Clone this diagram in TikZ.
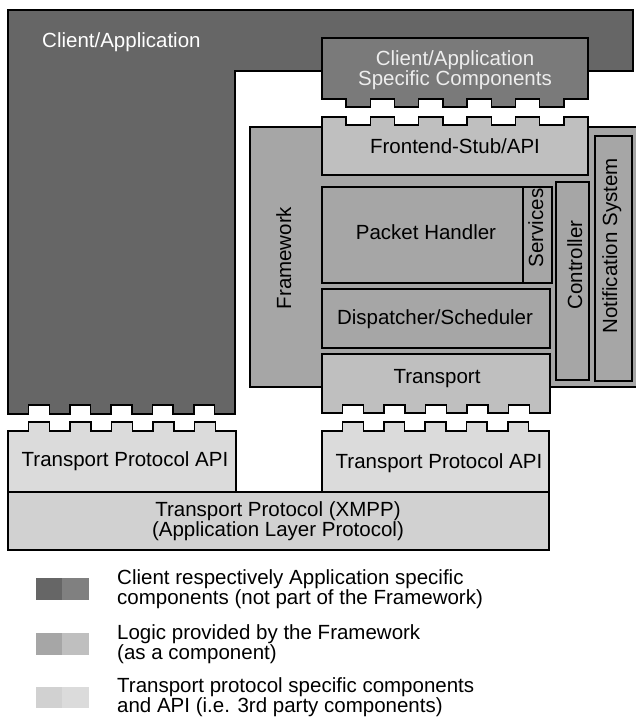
\documentclass[tikz,border=0pt]{standalone}
\usepackage{fontspec}
\setmainfont{Liberation Sans}
\usepackage{xcolor}
\usetikzlibrary{calc, positioning}

\definecolor{appdark}{gray}{0.40}
\definecolor{appmid}{gray}{0.48}
\definecolor{applegend}{gray}{0.50}
\definecolor{logicdark}{gray}{0.65}
\definecolor{logiclight}{gray}{0.75}
\definecolor{protodark}{gray}{0.82}
\definecolor{protolight}{gray}{0.86}

\begin{document}
\begin{tikzpicture}[
        x=1pt, y=-1pt,
        every node/.style={font=\fontsize{20.5}{20}\selectfont, inner sep=0pt},
        part/.style={draw=black, line width=1.5pt, line join=miter},
        label/.style={anchor=base},
        sidelabel/.style={anchor=base, rotate=90},
        legendtext/.style={anchor=west, align=left}
    ]
        \useasboundingbox (0,0) rectangle (635,717);

        % client / application
        \draw[part, fill=appdark] (8,10) -- (8,414)
            \foreach \k in {1,3,5,7,9} {-- ({8+\k*20.64},414) -- ({8+\k*20.64},405) -- ({8+(\k+1)*20.64},405) -- ({8+(\k+1)*20.64},414)}
            -- (235,414) -- (235,71) -- (633,71) -- (633,10) -- cycle;
        \node[anchor=base west, text=white] (clientapp) at (42,48) {Client/Application};

        % framework
        \draw[part, fill=logicdark] (250,127) rectangle (645,387);
        \node[sidelabel] (framework) at (291,258) {Framework};

        \draw[part, fill=appmid] (322,38) -- (322,99)
            \foreach \k in {1,3,5,7,9} {-- ({322+\k*24.18},99) -- ({322+\k*24.18},107) -- ({322+(\k+1)*24.18},107) -- ({322+(\k+1)*24.18},99)}
            -- (588,99) -- (588,38) -- cycle;
        \node[label, align=center, text=white!93!black] (appcomponents) at (455,85) {Client/Application\\Specific Components};

        \draw[part, fill=logiclight] (322,175) -- (322,117)
            \foreach \k in {1,3,5,7,9} {-- ({322+\k*24.18},117) -- ({322+\k*24.18},125) -- ({322+(\k+1)*24.18},125) -- ({322+(\k+1)*24.18},117)}
            -- (588,117) -- (588,175) -- cycle;
        \node[label] (frontend) at (455,153) {Frontend-Stub/API};

        \draw[part, fill=logicdark] (322,187) rectangle (523,283);
        \node[label] (packethandler) at (426,239) {Packet Handler};
        \draw[part, fill=logicdark] (523,187) rectangle (552,283);
        \node[sidelabel] (services) at (543,228) {Services};

        \draw[part, fill=logicdark] (322,289) rectangle (550,348);
        \node[label] (dispatcher) at (435,324) {Dispatcher/Scheduler};

        \draw[part, fill=logiclight] (322,354) -- (322,413)
            \foreach \k in {1,3,5,7,9} {-- ({322+\k*20.73},413) -- ({322+\k*20.73},405) -- ({322+(\k+1)*20.73},405) -- ({322+(\k+1)*20.73},413)}
            -- (550,413) -- (550,354) -- cycle;
        \node[label] (transport) at (437,383) {Transport};

        \draw[part, fill=logicdark] (556,182) rectangle (589,380);
        \node[sidelabel] (controller) at (582,265) {Controller};
        \draw[part, fill=logicdark] (595,136) rectangle (632,381);
        \node[sidelabel] (notification) at (617,246) {Notification System};

        % transport protocol
        \draw[part, fill=protolight] (8,492) -- (8,431)
            \foreach \k in {1,3,5,7,9} {-- ({8+\k*20.73},431) -- ({8+\k*20.73},422) -- ({8+(\k+1)*20.73},422) -- ({8+(\k+1)*20.73},431)}
            -- (236,431) -- (236,492) -- cycle;
        \node[label] (apileft) at (125,466) {Transport Protocol API};

        \draw[part, fill=protolight] (322,492) -- (322,431)
            \foreach \k in {1,3,5,7,9} {-- ({322+\k*20.64},431) -- ({322+\k*20.64},422) -- ({322+(\k+1)*20.64},422) -- ({322+(\k+1)*20.64},431)}
            -- (549,431) -- (549,492) -- cycle;
        \node[label] (apiright) at (439,468) {Transport Protocol API};

        \draw[part, fill=protodark] (8,492) rectangle (549,550);
        \node[label, align=center] (xmpp) at (278,536) {Transport Protocol (XMPP)\\(Application Layer Protocol)};

        % legend
        \fill[appdark] (36,578) rectangle (62,600);
        \fill[applegend] (62,578) rectangle (89,600);
        \node[legendtext] (legendapp) at (117,589) {Client respectively Application specific\\components (not part of the Framework)};
        \fill[logicdark] (36,633) rectangle (62,655);
        \fill[logiclight] (62,633) rectangle (89,655);
        \node[legendtext] (legendlogic) at (117,644) {Logic provided by the Framework\\(as a component)};
        \fill[protodark] (36,687) rectangle (62,708);
        \fill[protolight] (62,687) rectangle (89,708);
        \node[legendtext] (legendproto) at (117,697) {Transport protocol specific components\\and API (i.e. 3rd party components)};
    \end{tikzpicture}
\end{document}
